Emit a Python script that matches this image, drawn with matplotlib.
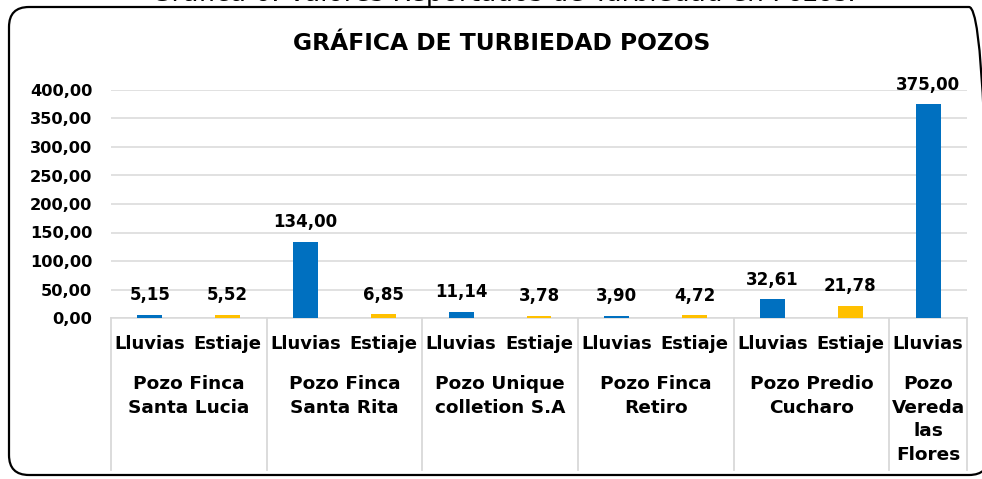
import matplotlib
matplotlib.use("Agg")
from matplotlib import pyplot as plt
from matplotlib.patches import FancyBboxPatch
from matplotlib import transforms

# Data
slot_labels = ["Lluvias", "Estiaje", "Lluvias", "Estiaje", "Lluvias", "Estiaje",
               "Lluvias", "Estiaje", "Lluvias", "Estiaje", "Lluvias"]
values = [5.15, 5.52, 134.00, 6.85, 11.14, 3.78, 3.90, 4.72, 32.61, 21.78, 375.00]
groups = ["Pozo Finca\nSanta Lucia", "Pozo Finca\nSanta Rita", "Pozo Unique\ncolletion S.A",
          "Pozo Finca\nRetiro", "Pozo Predio\nCucharo", "Pozo\nVereda\nlas\nFlores"]
group_sizes = [2, 2, 2, 2, 2, 1]
yticks = [0, 50, 100, 150, 200, 250, 300, 350, 400]

season_colors = {"Lluvias": "#0070C0", "Estiaje": "#FFC000"}
grid_color = "#D9D9D9"
plt.rcParams['font.family'] = ['DejaVu Sans']


def fmt(v):
    return ("%.2f" % v).replace(".", ",")


fig = plt.figure(figsize=(9.82, 4.79), dpi=100)
ax = fig.add_axes([111 / 982, 161 / 479, 856 / 982, 228 / 479])

x = list(range(len(values)))
colors = [season_colors[s] for s in slot_labels]
ax.bar(x, values, width=0.32, color=colors, zorder=3)

# Value labels above each bar
for xi, v in zip(x, values):
    ax.annotate(fmt(v), (xi, v), xytext=(0, 10.5), textcoords="offset points",
                ha="center", va="baseline", fontsize=12, fontweight="bold",
                annotation_clip=False, zorder=4)

ax.set_xlim(-0.5, len(values) - 0.5)
ax.set_ylim(0, 400)
ax.set_yticks(yticks)
ax.set_yticklabels([fmt(t) for t in yticks], fontsize=11.7, fontweight="bold")
ax.tick_params(axis="y", length=0, pad=13.5)
ax.set_xticks([])
ax.yaxis.grid(True, color=grid_color, linewidth=1.1, zorder=0)
for s in ["top", "right", "left"]:
    ax.spines[s].set_visible(False)
ax.spines["bottom"].set_color(grid_color)
ax.spines["bottom"].set_linewidth(1.1)

# Multi-level category axis
trans = transforms.blended_transform_factory(ax.transData, ax.transAxes)
for xi, lab in zip(x, slot_labels):
    ax.annotate(lab, (xi, 0), xycoords=trans, xytext=(0, -18.7), textcoords="offset points",
                ha="center", va="center", fontsize=13, fontweight="bold",
                annotation_clip=False)

start = 0
bounds = [-0.5]
for g, n in zip(groups, group_sizes):
    center = start + (n - 1) / 2
    ax.annotate(g, (center, 0), xycoords=trans, xytext=(0, -41), textcoords="offset points",
                ha="center", va="top", fontsize=13.3, fontweight="bold", linespacing=1.41,
                annotation_clip=False)
    start += n
    bounds.append(start - 0.5)

for b in bounds:
    ax.plot([b, b], [0, -152 / 228], transform=trans, color=grid_color,
            linewidth=1.3, clip_on=False, zorder=1)

# Title and caption
fig.text(502 / 982, 1 - 50 / 479, "GRÁFICA DE TURBIEDAD POZOS", ha="center", va="baseline",
         fontsize=16.8, fontweight="bold")
fig.text(503 / 982, 1 - 1 / 479, "Gráfica 6. Valores Reportados de Turbiedad en Pozos.",
         ha="center", va="baseline", fontsize=19)

# Rounded border around the chart (right side runs past the image edge)
border = FancyBboxPatch((0.09, 0.04), 9.80, 4.68, boxstyle="round,pad=0,rounding_size=0.2",
                        transform=fig.dpi_scale_trans, fill=False, edgecolor="black",
                        linewidth=1.6)
fig.patches.append(border)

fig.savefig("out.png", dpi=100)
